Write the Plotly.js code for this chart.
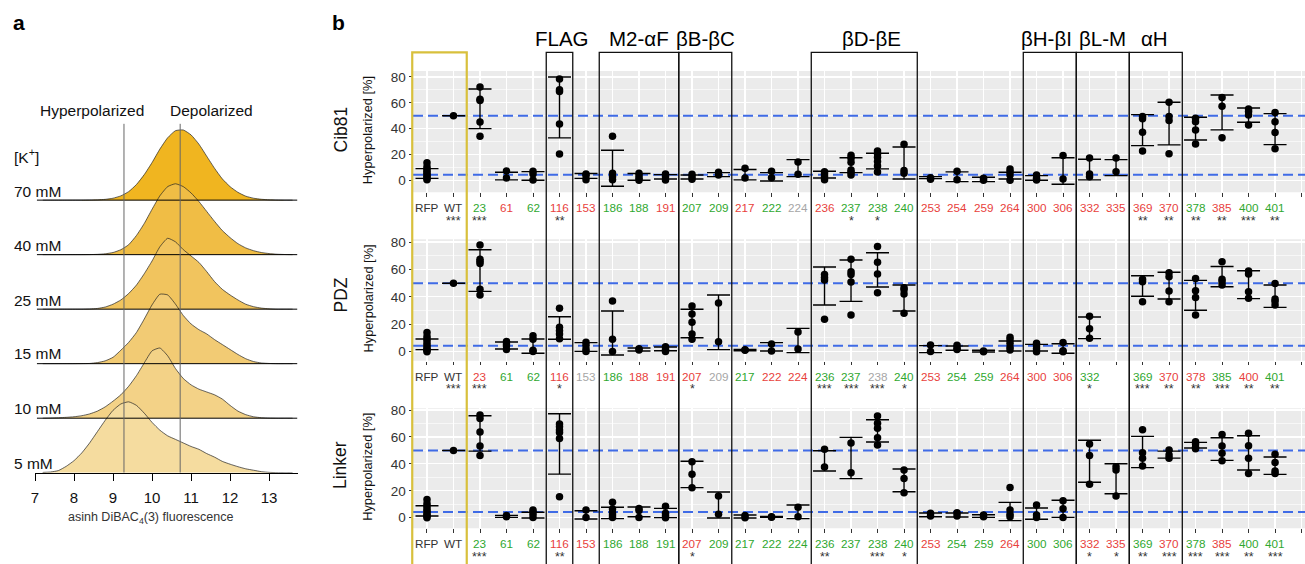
<!DOCTYPE html>
<html><head><meta charset="utf-8">
<script src="https://cdn.plot.ly/plotly-3.0.1.min.js"></script>
<style>html,body{margin:0;padding:0;background:#fff}#chart{width:1305px;height:564px}</style>
</head><body><div id="chart"></div>
<script>
// ---------------- Panel a : ridgeline densities ----------------
const densX = [7.2,7.4,7.6,7.8,8.0,8.2,8.4,8.6,8.8,9.0,9.2,9.4,9.6,9.8,10.0,10.2,10.4,10.6,10.8,11.0,11.2,11.4,11.6,11.8,12.0,12.2,12.4,12.6,12.8,13.0,13.2,13.4,13.6];
const dens5mM  = [0.003,0.01,0.03,0.09,0.17,0.28,0.42,0.58,0.74,0.88,0.97,1.0,0.95,0.84,0.71,0.60,0.52,0.47,0.42,0.37,0.33,0.27,0.22,0.16,0.12,0.085,0.055,0.035,0.015,0.005,0.001,0,0];
const dens10mM = [0,0.003,0.006,0.012,0.02,0.035,0.06,0.1,0.16,0.24,0.33,0.45,0.6,0.78,0.95,0.99,0.88,0.70,0.56,0.47,0.41,0.37,0.33,0.27,0.18,0.10,0.05,0.02,0.007,0.002,0,0,0];
const dens15mM = [0,0,0,0,0,0.001,0.003,0.015,0.04,0.09,0.19,0.30,0.44,0.63,0.83,0.98,0.97,0.84,0.68,0.56,0.48,0.42,0.34,0.27,0.20,0.13,0.07,0.03,0.01,0.003,0,0,0];
const dens25mM = [0,0,0,0,0,0,0.003,0.01,0.03,0.07,0.13,0.22,0.34,0.50,0.68,0.88,1.0,0.95,0.84,0.75,0.66,0.53,0.39,0.28,0.20,0.13,0.07,0.035,0.015,0.005,0,0,0];
const dens40mM = [0,0,0,0,0,0,0.001,0.004,0.012,0.03,0.07,0.14,0.27,0.44,0.64,0.83,0.96,1.0,0.96,0.87,0.75,0.61,0.47,0.34,0.24,0.155,0.095,0.056,0.03,0.015,0.006,0.002,0];
const dens70mM = [0,0,0,0,0,0,0.0015,0.004,0.011,0.027,0.06,0.12,0.22,0.36,0.53,0.72,0.88,0.98,0.99,0.92,0.79,0.62,0.45,0.30,0.19,0.11,0.056,0.027,0.012,0.005,0.002,0,0];
const ridgeLabels = ['5 mM','10 mM','15 mM','25 mM','40 mM','70 mM'];
const ridgeDens = [dens5mM, dens10mM, dens15mM, dens25mM, dens40mM, dens70mM];
const ridgeFill = ['#F5DC9F','#F3D287','#F2CB74','#F1C45E','#F0BD45','#F0B520'];
const ridgeTicks = [7,8,9,10,11,12,13];
const refLinesA = [9.28, 10.72];

// ---------------- Panel b : categories ----------------
const cats = ['RFP','WT','23','61','62','116','153','186','188','191','207','209','217','222','224','236','237','238','240','253','254','259','264','300','306','332','335','369','370','378','385','400','401'];

const cib81Colors  = ['k','k','g','r','g','r','r','g','g','r','g','g','r','g','n','r','g','g','g','r','r','r','r','r','r','r','r','r','r','g','r','g','g'];
const pdzColors    = ['k','k','r','g','g','r','n','g','r','r','r','n','g','r','r','g','g','n','g','r','g','g','r','r','r','g','','g','r','r','g','r','g'];
const linkerColors = ['k','k','g','g','g','r','r','g','g','g','r','g','g','g','g','g','g','g','g','r','g','g','r','g','g','r','r','g','r','g','r','g','g'];

const cib81Stars  = ['','***','***','','','**','','','','','','','','','','','*','*','','','','','','','','','','**','**','**','**','***','**'];
const pdzStars    = ['','***','***','','','*','','','','','*','','','','','***','***','***','*','','','','','','','*','','***','**','**','***','**','**'];
const linkerStars = ['','','***','','','**','','','','','*','','','','','**','','***','*','','','','','','','*','*','**','***','***','***','**','***'];

const cib81Points = [
 [13.5,10.5,8.5,7,5.5,4,3,1.5,0.5],[50],[72.3,62.7,61.7,45.2,34],[7.2,1.8],[7,4.9,0.3],
 [78.5,70,68.7,43.6,20.4],[4.9,3.6,0.5],[34,5.4,2.8,0.5],[5.4,3.5,1.5,0],[4.9,2.8,0.3],
 [4.6,2.8,0.8],[6.2,4.1],[9.3,1.8],[7,2],[14.2,4.6],
 [6.7,4.9,2.8,0.5],[19.4,17,13.9,8,6.2,4.1],[22.7,20.6,17.8,14.5,11.1,6.5],[27.9,7.5,5.4],
 [2,0.8],[7,0.5],[1.5,0],[8.8,6.7,4.1,0],[4.1,1.5,0.3],[19.1,1],[17.3,4.9,2.8],[17.3,6.7],
 [49.3,47.7,37.2,22.7],[60.4,49.3,46.2,20.6],[48,45.4,39,28.1],[64,57.3,33],[55.2,53.2,50.6,42.8],[52.4,45.4,36.9,24.5]];
const cib81Low  = [1.5,50,40,0.3,0,32.8,1.5,-4.6,0,1,1,2.8,0.3,-0.5,2.8,1.8,5.9,8.8,1,1.3,-1,-1,1,0,-3.1,0.3,3.6,26.8,27.4,31.2,39,44.9,27.6];
const cib81High = [9,50,70.7,6.2,6.7,80,5.2,23.2,5.2,4.4,4.1,5.9,8.3,5.9,16,7,17.5,20.9,25.8,2.8,6.5,2.3,6.2,3.6,17.5,16.3,16,50.8,60.4,48.8,66,56,51.6];

const pdzPoints = [
 [13.9,11,9,7,5,3.5,2,1,0],[50],[77.8,67.4,65.9,64.4,45.5,41.3],[7.5,5.6,4.1,1.5],[11.7,9,1,0.2],
 [31.6,17.8,15.3,12.9,9.5],[6.8,4.6,1.9,0.2],[37,9,0.2],[2.2,1.2],[3.6,1.7,0.2],
 [33.3,27.5,21.4,12.9,9],[35.5,7.3],[1.4,1.0],[5.6,0.5],[14.3,1.9],
 [56.4,54.2,52.3,23.6],[67.4,58.4,56.4,50.8,26.7],[76.8,65.2,56.7,43],[46.7,45.2,42.1,28],
 [4.9,0.2],[4.6,2.4,1.5],[0.5,0],[10.5,8.5,6.1,3.2,1.2],[6.1,4.1,2.2,0],[6.6,0.7,0],[25.8,16.8,9.7],[],
 [52.8,51.1,36.5],[57.6,54.7,44.3,36.5],[53.3,44.5,39.6,26.7],[65.7,52.8,51.1,48.6],[58.8,56.7,43.8,38.9],[49.8,38.4,36.7,34]];
const pdzLow  = [1.5,50,44,1.9,-1.2,9,0.2,-2.4,0.5,0.7,10.2,1.5,0.7,0.5,-0.7,34,36.7,47.2,29.7,-0.7,1,-0.3,0.5,0.5,-1.2,9.5,null,40.4,38.4,30.2,47.4,38.7,32.3];
const pdzHigh = [9.2,50,74.4,7,9.2,25.5,6.6,29.7,2.7,3.4,30.9,41.3,1.7,6.6,17,61.8,66.9,72.2,48.6,4.4,4.1,1,7.8,5.3,5.8,25.3,null,55.4,57.9,52,62.2,59.1,48.6];

const linkerPoints = [
 [13.6,10.5,8.5,6.5,5,3.5,2,1,0],[50],[76.3,73.8,63.7,53.3,46.3],[1.7,0.7],[5.7,4.5,2.5,0.2],
 [69.6,67.6,65.1,63.4,58.9,15.6],[5.7,0.2],[11.4,6.4,3.7,2,0.2],[6.9,5.4,0.2],[8.4,3.2,1.5,0],
 [41.6,32.2,22.3],[16.1,2.5],[1.7,0],[0.7,0.3],[7.7,0.7],
 [50.8,37.6],[55.5,33.4],[75.5,70.1,66.4,59.4,54],[35.4,29.2,18.6],
 [3.2,1.2],[3.7,1.2],[2,0.7],[22.5,5.7,2.5,0.7],[9.4,2,0.2],[12.6,6.7,0.2],[54.7,46.3,24.8],[37.9,35.4,16.1],
 [65.4,48.3,44.1,38.4],[50.3,46.6,44.1],[56.5,54.7,52.3,51.3],[61.9,53.3,47.8,42.4],[62.7,53.5,44.1,32.9],[47.1,41.1,34.7,32.9]];
const linkerLow  = [1.2,50,49.5,0.2,-0.2,32.4,-1,-0.7,0.7,0,22.3,-0.2,-0.2,0.2,-0.7,34.7,29,56.2,19.3,0.7,0.5,0.2,-2.2,-1.2,0.2,26.3,17.8,37.2,44.3,51.8,42.6,35.4,32.2];
const linkerHigh = [8.9,50,75.8,1.7,4,77.3,5.2,7.7,7.9,6.9,41.9,19.1,2,1,9.4,49.8,59.7,72.8,36.2,3.5,3.5,2.2,11.4,7.2,12.9,57.5,40.1,60.4,49.5,56,59.4,60.9,45.1];

const refHigh = 50, refLow = 4.3;
const yTicksB = [0,20,40,60,80];

const groupNames = ['FLAG','M2-αF','βB-βC','βD-βE','βH-βI','βL-M','αH'];
const groupFrom  = ['116','186','207','236','300','332','369'];
const groupTo    = ['116','191','209','240','306','335','370'];
const groupLabelPx = [561.7,639,705,871.7,1046.7,1102,1154];

// ---------------- helpers ----------------
const W = 1305, H = 564;
const PX = v => v / W;
const PY = v => 1 - v / H;
const colorMap = {k:'#333333', g:'#2FA82F', r:'#E8413C', n:'#A6A6A6', '':'#000'};
const FONT = 'Liberation Sans, Arial, Helvetica, sans-serif';

const traces = [];
const shapes = [];
const annotations = [];

// ---- panel a traces ----
const ridgeScale = 1.30;
for (let k = ridgeDens.length - 1; k >= 0; k--) {
  const d = ridgeDens[k];
  const xs = [densX[0]].concat(densX, [densX[densX.length - 1]]);
  const ys = [k].concat(d.map(v => k + v * ridgeScale), [k]);
  traces.push({x: xs, y: ys, xaxis:'x', yaxis:'y', mode:'lines', fill:'toself', fillcolor: ridgeFill[k],
    line:{color:'#222', width:0.7, shape:'spline', smoothing:0.5}, hoverinfo:'skip'});
}
for (let k = ridgeDens.length - 1; k >= 1; k--) {
  traces.push({x:[7.05, 13.72], y:[k, k], xaxis:'x', yaxis:'y', mode:'lines', line:{color:'#000', width:1}, hoverinfo:'skip'});
}
refLinesA.forEach(v => traces.push({x:[v, v], y:[0, 6.40], xaxis:'x', yaxis:'y', mode:'lines', line:{color:'#666', width:1}, hoverinfo:'skip'}));

const ridgeLabelY = [463, 408, 353.5, 300, 245, 191];
ridgeLabels.forEach((t, k) => annotations.push({text:t, xref:'paper', yref:'paper', x:PX(12), y:PY(ridgeLabelY[k]), xanchor:'left', yanchor:'middle', showarrow:false, font:{size:15.5, color:'#111'}}));
annotations.push({text:'[K<sup>+</sup>]', xref:'paper', yref:'paper', x:PX(12), y:PY(156), xanchor:'left', yanchor:'middle', showarrow:false, font:{size:15.5, color:'#111'}});
annotations.push({text:'Hyperpolarized', xref:'paper', yref:'paper', x:PX(92), y:PY(110), xanchor:'center', yanchor:'middle', showarrow:false, font:{size:15.5, color:'#111'}});
annotations.push({text:'Depolarized', xref:'paper', yref:'paper', x:PX(212), y:PY(110), xanchor:'center', yanchor:'middle', showarrow:false, font:{size:15.5, color:'#111'}});
annotations.push({text:'asinh DiBAC<sub>4</sub>(3) fluorescence', xref:'paper', yref:'paper', x:PX(150.5), y:PY(518), xanchor:'center', yanchor:'middle', showarrow:false, font:{size:12.5, color:'#333'}});
annotations.push({text:'<b>a</b>', xref:'paper', yref:'paper', x:PX(19), y:PY(23), xanchor:'center', yanchor:'middle', showarrow:false, font:{size:21, color:'#000'}});
annotations.push({text:'<b>b</b>', xref:'paper', yref:'paper', x:PX(338.5), y:PY(22), xanchor:'center', yanchor:'middle', showarrow:false, font:{size:21, color:'#000'}});

// ---- panel b ----
const rows = [
  {name:'Cib81', pts:cib81Points, lo:cib81Low, hi:cib81High, colors:cib81Colors, stars:cib81Stars, dom:[71,192.3], range:[-9.3,84.6], labelY:207.5, starY:221, titleY:129.5},
  {name:'PDZ', pts:pdzPoints, lo:pdzLow, hi:pdzHigh, colors:pdzColors, stars:pdzStars, dom:[239.3,360.7], range:[-6.6,82.0], labelY:376, starY:389, titleY:294.5},
  {name:'Linker', pts:linkerPoints, lo:linkerLow, hi:linkerHigh, colors:linkerColors, stars:linkerStars, dom:[408.3,528.3], range:[-7.9,81.3], labelY:543.5, starY:557, titleY:465}
];

const layout = {
  width:W, height:H, margin:{l:0, r:0, t:0, b:0}, paper_bgcolor:'#fff', plot_bgcolor:'rgba(0,0,0,0)',
  showlegend:false, font:{family:FONT, color:'#111'},
  xaxis:{domain:[PX(35), PX(298)], range:[7, 13.74], anchor:'y', tickmode:'array', tickvals:ridgeTicks,
    ticks:'outside', ticklen:7, tickwidth:1, tickcolor:'#000', showline:true, linecolor:'#000', linewidth:1,
    showgrid:false, zeroline:false, tickfont:{size:15, color:'#111'}, ticklabelstandoff:4, fixedrange:true},
  yaxis:{domain:[PY(472.7), PY(120)], range:[0, 6.47], anchor:'x', visible:false, fixedrange:true}
};

const xRangeB = [-0.528, 33.13];
const xDomB = [PX(413), 1];
// category position -> paper x, through panel b's x-axis range/domain
const catPaper = v => xDomB[0] + (v - xRangeB[0]) / (xRangeB[1] - xRangeB[0]) * (xDomB[1] - xDomB[0]);

rows.forEach((r, ri) => {
  const n = ri + 2;
  const xa = 'x' + n, ya = 'y' + n;
  layout['xaxis' + n] = {domain:xDomB, range:xRangeB, anchor:ya, tickmode:'linear', tick0:0, dtick:1,
    showticklabels:false, ticks:'outside', ticklen:3.5, tickwidth:1, tickcolor:'#333', showgrid:true,
    gridcolor:'#ffffff', gridwidth:1.2, zeroline:false, showline:false, fixedrange:true};
  layout['yaxis' + n] = {domain:[PY(r.dom[1]), PY(r.dom[0])], range:r.range, anchor:xa, tickmode:'array', tickvals:yTicksB,
    ticks:'outside', ticklen:3.5, tickwidth:1, tickcolor:'#333', tickfont:{size:13.5, color:'#333'},
    showgrid:true, gridcolor:'#ffffff', gridwidth:1.2, zeroline:false, showline:false, fixedrange:true,
    minor:{tickmode:'array', tickvals:[10,30,50,70], showgrid:true, gridcolor:'#ffffff', gridwidth:0.6, ticks:''}};
  // panel background
  shapes.push({type:'rect', xref:xa + ' domain', yref:ya + ' domain', x0:0, x1:1, y0:0, y1:1, fillcolor:'#EBEBEB', line:{width:0}, layer:'below'});
  // reference lines (as traces spanning the full x range)
  [refHigh, refLow].forEach(v => traces.push({x:xRangeB, y:[v, v], xaxis:xa, yaxis:ya, mode:'lines',
    line:{color:'#3F6BE6', width:2, dash:'10px,5px'}, hoverinfo:'skip'}));
  // error bars
  const ex = [], ey = [], ee = [];
  cats.forEach((c, i) => {
    if (r.lo[i] === null || r.hi[i] === null) return;
    ex.push(i); ey.push((r.lo[i] + r.hi[i]) / 2); ee.push(Math.max((r.hi[i] - r.lo[i]) / 2, 0.05));
  });
  traces.push({x:ex, y:ey, xaxis:xa, yaxis:ya, mode:'markers', marker:{size:2, color:'rgba(0,0,0,0)'},
    error_y:{type:'data', array:ee, symmetric:true, visible:true, color:'#000', thickness:1.4, width:11.5}, hoverinfo:'skip'});
  // points
  const px = [], pyv = [];
  r.pts.forEach((arr, i) => arr.forEach(v => { px.push(i); pyv.push(v); }));
  traces.push({x:px, y:pyv, xaxis:xa, yaxis:ya, mode:'markers', marker:{size:7.5, color:'#000'}, hoverinfo:'skip'});
  // category labels and stars
  cats.forEach((c, i) => {
    if (r.colors[i] !== '') {
      annotations.push({text:c, xref:'paper', yref:'paper', x:catPaper(i), y:PY(r.labelY), xanchor:'center', yanchor:'middle', showarrow:false,
        font:{size:11.7, color:colorMap[r.colors[i]]}});
    }
    if (r.stars[i]) {
      annotations.push({text:r.stars[i], xref:'paper', yref:'paper', x:catPaper(i), y:PY(r.starY), xanchor:'center', yanchor:'middle', showarrow:false,
        font:{size:12.5, color:'#333'}});
    }
  });
  annotations.push({text:r.name, xref:'paper', yref:'paper', x:PX(340), y:PY(r.titleY), textangle:-90, xanchor:'center', yanchor:'middle', showarrow:false, font:{size:17.5, color:'#111'}});
  annotations.push({text:'Hyperpolarized [%]', xref:'paper', yref:'paper', x:PX(367.5), y:PY((r.dom[0] + r.dom[1]) / 2 - 1), textangle:-90, xanchor:'center', yanchor:'middle', showarrow:false, font:{size:12.8, color:'#111'}});
});

// group boxes
shapes.push({type:'rect', xref:'paper', yref:'paper', x0:catPaper(cats.indexOf('RFP') - 0.5) - PX(1.5), x1:catPaper(cats.indexOf('WT') + 0.5), y0:PY(52.3), y1:-0.05,
  line:{color:'#D8C03C', width:2.2}, fillcolor:'rgba(0,0,0,0)', layer:'above'});
groupNames.forEach((g, gi) => {
  shapes.push({type:'rect', xref:'paper', yref:'paper', x0:catPaper(cats.indexOf(groupFrom[gi]) - 0.5), x1:catPaper(cats.indexOf(groupTo[gi]) + 0.5), y0:PY(52.3), y1:-0.05,
    line:{color:'#111', width:1.3}, fillcolor:'rgba(0,0,0,0)', layer:'above'});
  annotations.push({text:g, xref:'paper', yref:'paper', x:PX(groupLabelPx[gi]), y:PY(38), xanchor:'center', yanchor:'middle', showarrow:false, font:{size:20.5, color:'#000'}});
});

layout.shapes = shapes;
layout.annotations = annotations;
Plotly.newPlot('chart', traces, layout, {displayModeBar:false, staticPlot:true});
</script></body></html>
